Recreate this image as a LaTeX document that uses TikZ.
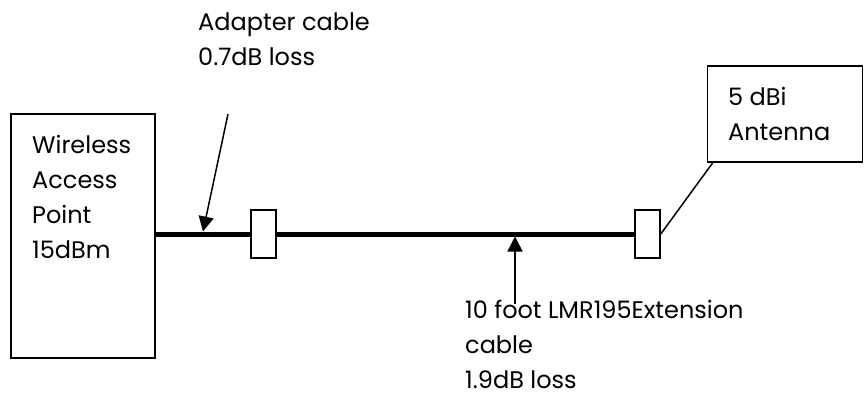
\documentclass[tikz,border=0pt]{standalone}
\usepackage{fontspec}
\setmainfont{Poppins}
\usetikzlibrary{arrows.meta,calc}
\tikzset{
  box/.style={draw, line width=1.5pt, inner sep=0pt, fill=white},
  label/.style={anchor=base west, inner sep=0pt, align=left,
    font=\fontsize{24}{35}\selectfont},
  cable/.style={line width=5pt},
  pointer/.style={line width=1.5pt, -{Triangle[length=15pt,width=15pt]}},
  thin/.style={line width=1.5pt}
}
\begin{document}
\begin{tikzpicture}[x=1pt,y=-1pt]
  \useasboundingbox (0,0) rectangle (864,394);
  % access point and antenna boxes
  \node[box, minimum width=144pt, minimum height=244pt] (ap) at (83,236) {};
  \node[box, minimum width=155pt, minimum height=96pt] (ant) at (785,114) {};
  % connectors
  \node[box, minimum width=25pt, minimum height=48pt] (c1) at (263.5,234) {};
  \node[box, minimum width=25pt, minimum height=48pt] (c2) at (647.5,234) {};
  % cable runs
  \draw[cable] (ap.east |- c1.west) -- (c1.west);
  \draw[cable] (c1.east) -- (c2.west);
  \draw[thin] ($(ant.south west)+(6,0)$) -- (c2.east);
  % labels (anchored on the baseline of their last line)
  \node[label] (aptext) at (32,258) {Wireless\\Access\\Point\\15dBm};
  \node[label] (anttext) at (728,140) {5 dBi\\Antenna};
  \node[label] (adtext) at (198,65) {Adapter cable\\0.7dB loss};
  \node[label] (extext) at (465,388) {10 foot LMR195Extension\\cable\\1.9dB loss};
  % pointers onto the cable
  \coordinate (adtail) at (228,114);
  \coordinate (adtip) at (203,231.5);
  \coordinate (extail) at (515,304);
  \coordinate (extip) at (515,236.5);
  \draw[pointer] (adtail) -- (adtip);
  \draw[pointer] (extail) -- (extip);
\end{tikzpicture}
\end{document}
